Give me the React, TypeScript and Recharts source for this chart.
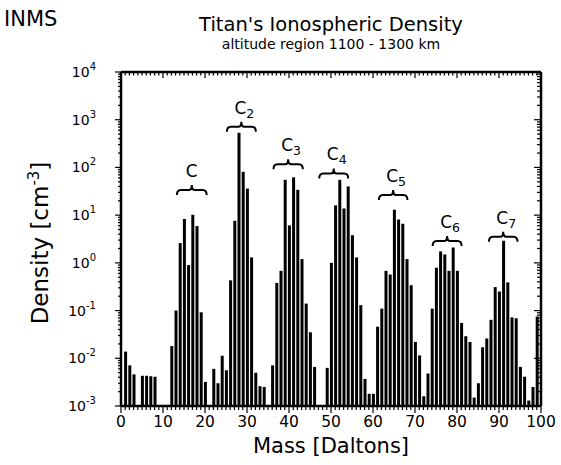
import React from 'react';
import { BarChart, Bar, XAxis, YAxis, ReferenceArea } from 'recharts';

const FONT = '"DejaVu Sans", "Liberation Sans", Arial, sans-serif';

const masses = [1, 2, 3, 5, 6, 7, 8, 12, 13, 14, 15, 16, 17, 18, 19, 20, 22, 23, 24, 25, 26, 27, 28, 29, 30, 31, 32, 33, 34, 36, 37, 38, 39, 40, 41, 42, 43, 44, 45, 46, 49, 50, 51, 52, 53, 54, 55, 56, 57, 58, 59, 60, 61, 62, 63, 64, 65, 66, 67, 68, 69, 70, 71, 72, 73, 74, 75, 76, 77, 78, 79, 80, 81, 82, 83, 84, 85, 86, 87, 88, 89, 90, 91, 92, 93, 94, 95, 96, 97, 98, 99];

const densities = [0.0138, 0.0071, 0.0046, 0.0043, 0.0043, 0.0042, 0.0041, 0.018, 0.1, 2.6, 8.3, 0.9, 10.2, 5.9, 0.092, 0.0032, 0.006, 0.003, 0.0113, 0.0056, 0.43, 7.6, 530, 81, 36, 1.3, 0.005, 0.0026, 0.0025, 0.0071, 0.38, 0.68, 55, 6.1, 62, 34, 1.2, 0.14, 0.035, 0.0066, 0.0063, 1.0, 16, 55, 13.8, 40, 3.8, 1.3, 0.13, 0.0037, 0.0018, 0.0018, 0.046, 0.11, 0.68, 0.57, 13, 8.1, 6.6, 1.2, 0.34, 0.022, 0.0115, 0.0016, 0.0048, 0.11, 0.79, 1.74, 1.5, 0.68, 2.1, 0.68, 0.055, 0.029, 0.022, 0.0015, 0.003, 0.017, 0.026, 0.064, 0.31, 0.25, 2.9, 0.39, 0.072, 0.069, 0.0066, 0.0041, 0.0013, 0.0025, 0.075];

const xTicks = Array.from({ length: 101 }, (_, i) => i);
const decades = [-3, -2, -1, 0, 1, 2, 3];
const yTicks = [
  ...decades.flatMap((d) => [1, 2, 3, 4, 5, 6, 7, 8, 9].map((k) => Number((k * Math.pow(10, d)).toPrecision(3)))),
  10000,
];

const bracketBase = ['C', 'C', 'C', 'C', 'C', 'C', 'C'];
const bracketSub = ['', '2', '3', '4', '5', '6', '7'];
const bracketFrom = [13.3, 25.2, 36.3, 47.2, 61.4, 74.2, 87.6];
const bracketTo = [20.4, 32.1, 43.3, 54.1, 68.2, 81.1, 94.4];
const bracketLevel = [33.6, 713, 116, 75, 26.4, 2.87, 3.53];

const data = masses.map((m, i) => ({ mass: m, density: densities[i] }));

const isMajorLog = (v: number) => {
  const l = Math.log10(v);
  return Math.abs(l - Math.round(l)) < 1e-6;
};

const BottomTick = (props: any) => {
  const { x, y, payload } = props;
  const v = payload.value;
  const major = v % 10 === 0;
  return (
    <g>
      <line x1={x} x2={x} y1={y} y2={y + (major ? 7 : 4)} stroke="#000" strokeWidth={1.2} />
      {major && (
        <text x={x} y={y + 21} textAnchor="middle" fontSize={15.5} fontFamily={FONT} fill="#000">
          {v}
        </text>
      )}
    </g>
  );
};

const TopTick = (props: any) => {
  const { x, y, payload } = props;
  const major = payload.value % 10 === 0;
  return <line x1={x} x2={x} y1={y} y2={y + (major ? 6 : 3.5)} stroke="#000" strokeWidth={1.2} />;
};

const LeftTick = (props: any) => {
  const { x, y, payload } = props;
  const v = payload.value;
  const major = isMajorLog(v);
  const e = Math.round(Math.log10(v));
  return (
    <g>
      <line x1={x - (major ? 6 : 3)} x2={x} y1={y} y2={y} stroke="#000" strokeWidth={1.2} />
      {major && (
        <text x={x - 25} y={y + 5} textAnchor="end" fontSize={14} fontFamily={FONT} fill="#000">
          10
          <tspan dy={-7} fontSize={10}>
            {e}
          </tspan>
        </text>
      )}
    </g>
  );
};

const RightTick = (props: any) => {
  const { x, y, payload } = props;
  const major = isMajorLog(payload.value);
  return <line x1={x - (major ? 7 : 4)} x2={x} y1={y} y2={y} stroke="#000" strokeWidth={1.2} />;
};

const makeBracket = (i: number) => (props: any) => {
  const { x, y, width } = props;
  const x0 = x;
  const x1 = x + width;
  const cx = (x0 + x1) / 2;
  const d = `M ${x0} ${y + 5} Q ${x0} ${y} ${x0 + 4} ${y} L ${cx - 3} ${y} Q ${cx} ${y} ${cx} ${y - 5} Q ${cx} ${y} ${cx + 3} ${y} L ${x1 - 4} ${y} Q ${x1} ${y} ${x1} ${y + 5}`;
  const sub = bracketSub[i];
  return (
    <g>
      <path d={d} fill="none" stroke="#000" strokeWidth={2} />
      <text x={cx + (sub ? 3 : 0)} y={y - 13} textAnchor="middle" fontSize={17} fontFamily={FONT} fill="#000">
        {bracketBase[i]}
        {sub && (
          <tspan dy={4} fontSize={12.5}>
            {sub}
          </tspan>
        )}
      </text>
    </g>
  );
};

export default function App() {
  return (
    <div style={{ position: 'absolute', left: 0, top: 0, width: 561, height: 465, background: '#fff' }}>
      <BarChart
        width={561}
        height={465}
        data={data}
        margin={{ top: 62, right: 10, bottom: 29, left: 61 }}
        barCategoryGap={0}
      >
        <XAxis
          dataKey="mass"
          type="number"
          domain={[0, 100]}
          ticks={xTicks}
          interval={0}
          height={30}
          tickSize={0}
          tickMargin={0}
          tick={<BottomTick />}
          axisLine={{ stroke: '#000', strokeWidth: 2.5 }}
          tickLine={false}
          allowDataOverflow
        />
        <XAxis
          xAxisId="top"
          orientation="top"
          dataKey="mass"
          type="number"
          domain={[0, 100]}
          ticks={xTicks}
          interval={0}
          height={10}
          tickSize={0}
          tickMargin={0}
          tick={<TopTick />}
          axisLine={{ stroke: '#000', strokeWidth: 2.5 }}
          tickLine={false}
          allowDataOverflow
        />
        <YAxis
          type="number"
          scale="log"
          domain={[0.001, 10000]}
          ticks={yTicks}
          interval={0}
          width={60}
          tickSize={0}
          tickMargin={0}
          tick={<LeftTick />}
          axisLine={{ stroke: '#000', strokeWidth: 2.5 }}
          tickLine={false}
          allowDataOverflow
        />
        <YAxis
          yAxisId="right"
          orientation="right"
          type="number"
          scale="log"
          domain={[0.001, 10000]}
          ticks={yTicks}
          interval={0}
          width={10}
          tickSize={0}
          tickMargin={0}
          tick={<RightTick />}
          axisLine={{ stroke: '#000', strokeWidth: 2.5 }}
          tickLine={false}
          allowDataOverflow
        />
        <Bar dataKey="density" fill="#000" barSize={3} isAnimationActive={false} />
        {bracketFrom.map((f, i) => (
          <ReferenceArea
            key={i}
            x1={f}
            x2={bracketTo[i]}
            y1={bracketLevel[i]}
            y2={bracketLevel[i]}
            ifOverflow="visible"
            shape={makeBracket(i)}
          />
        ))}
      </BarChart>
      <svg
        width={561}
        height={465}
        style={{ position: 'absolute', left: 0, top: 0, pointerEvents: 'none' }}
      >
        <text x={4} y={26} fontSize={21} fontFamily={FONT} fill="#000">INMS</text>
        <text x={331} y={31} textAnchor="middle" fontSize={19.5} fontFamily={FONT} fill="#000">
          Titan's Ionospheric Density
        </text>
        <text x={331} y={49} textAnchor="middle" fontSize={14} fontFamily={FONT} fill="#000">
          altitude region 1100 - 1300 km
        </text>
        <text
          transform="translate(48,243) rotate(-90)"
          textAnchor="middle"
          fontSize={23}
          fontFamily={FONT}
          fill="#000"
        >
          Density [cm
          <tspan dy={-9} fontSize={15}>-3</tspan>
          <tspan dy={9}>]</tspan>
        </text>
        <text x={331} y={453} textAnchor="middle" fontSize={21} fontFamily={FONT} fill="#000">
          Mass [Daltons]
        </text>
      </svg>
    </div>
  );
}
